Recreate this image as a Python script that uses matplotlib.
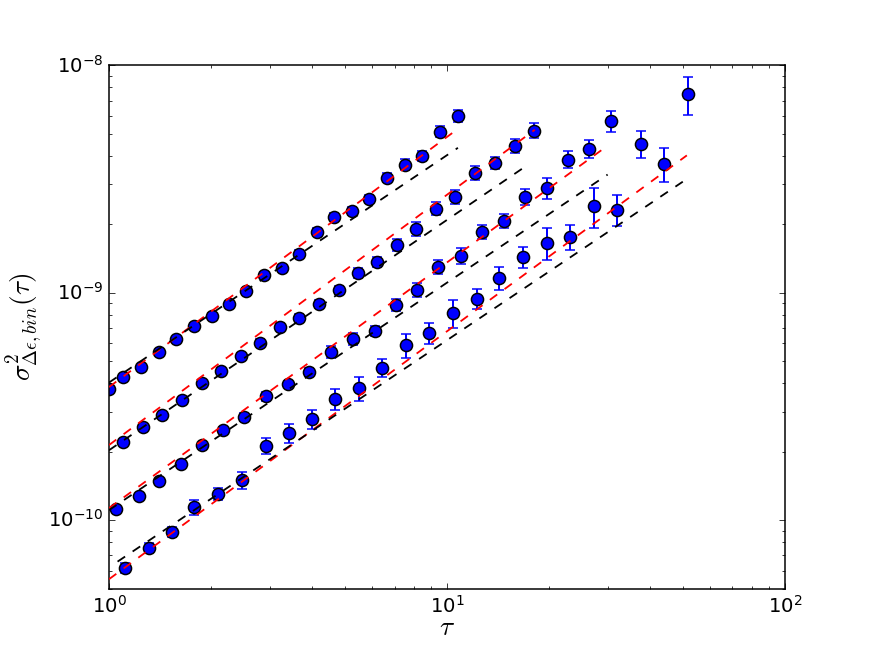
import numpy as np
import matplotlib
matplotlib.use("Agg")
import matplotlib.pyplot as plt

plt.style.use("classic")

# ---- data: four binned series (tau, sigma^2, relative error) ----
tau1 = [1.000, 1.100, 1.243, 1.406, 1.578, 1.784, 2.018, 2.265, 2.543, 2.875, 3.250,
        3.648, 4.125, 4.631, 5.236, 5.878, 6.645, 7.510, 8.433, 9.535, 10.78]
var1 = [3.78e-10, 4.27e-10, 4.72e-10, 5.50e-10, 6.27e-10, 7.15e-10, 7.92e-10, 8.94e-10,
        1.020e-9, 1.200e-9, 1.288e-9, 1.485e-9, 1.857e-9, 2.162e-9, 2.297e-9, 2.595e-9,
        3.210e-9, 3.664e-9, 4.012e-9, 5.120e-9, 6.02e-9]
rel1 = [0.02, 0.02, 0.02, 0.02, 0.02, 0.025, 0.025, 0.025, 0.03, 0.03, 0.03,
        0.035, 0.035, 0.035, 0.04, 0.04, 0.045, 0.055, 0.05, 0.057, 0.06]

tau2 = [1.100, 1.260, 1.435, 1.644, 1.884, 2.145, 2.458, 2.797, 3.205, 3.648, 4.181,
        4.792, 5.454, 6.208, 7.113, 8.095, 9.279, 10.56, 12.10, 13.87, 15.90, 18.09]
var2 = [2.206e-10, 2.569e-10, 2.901e-10, 3.378e-10, 4.013e-10, 4.533e-10, 5.278e-10,
        6.020e-10, 7.08e-10, 7.76e-10, 8.94e-10, 1.031e-9, 1.224e-9, 1.370e-9, 1.627e-9,
        1.914e-9, 2.344e-9, 2.648e-9, 3.378e-9, 3.738e-9, 4.442e-9, 5.17e-9]
rel2 = [0.02, 0.02, 0.025, 0.025, 0.03, 0.03, 0.03, 0.035, 0.035, 0.035, 0.04,
        0.04, 0.05, 0.05, 0.06, 0.068, 0.065, 0.068, 0.07, 0.06, 0.07, 0.075]

tau3 = [1.049, 1.227, 1.406, 1.633, 1.884, 2.175, 2.508, 2.914, 3.385, 3.906, 4.537,
        5.272, 6.124, 7.066, 8.152, 9.405, 11.00, 12.69, 14.75, 17.02, 19.77, 22.80,
        26.31, 30.56]
var3 = [1.118e-10, 1.275e-10, 1.485e-10, 1.765e-10, 2.140e-10, 2.492e-10, 2.842e-10,
        3.517e-10, 3.973e-10, 4.487e-10, 5.497e-10, 6.27e-10, 6.80e-10, 8.85e-10,
        1.031e-9, 1.302e-9, 1.455e-9, 1.857e-9, 2.076e-9, 2.648e-9, 2.902e-9, 3.855e-9,
        4.309e-9, 5.72e-9]
rel3 = [0.02, 0.02, 0.02, 0.025, 0.025, 0.03, 0.04, 0.045, 0.035, 0.04, 0.06,
        0.06, 0.055, 0.06, 0.075, 0.07, 0.08, 0.07, 0.075, 0.085, 0.105, 0.085,
        0.095, 0.105]

tau4 = [1.115, 1.313, 1.536, 1.784, 2.101, 2.475, 2.914, 3.409, 3.987, 4.664, 5.490,
        6.423, 7.562, 8.846, 10.42, 12.27, 14.25, 16.79, 19.77, 23.12, 27.22, 31.84,
        37.50, 43.85, 51.65]
var4 = [6.145e-11, 7.52e-11, 8.86e-11, 1.141e-10, 1.302e-10, 1.500e-10, 2.118e-10,
        2.416e-10, 2.785e-10, 3.412e-10, 3.815e-10, 4.672e-10, 5.90e-10, 6.66e-10,
        8.16e-10, 9.41e-10, 1.164e-9, 1.441e-9, 1.661e-9, 1.765e-9, 2.416e-9, 2.320e-9,
        4.53e-9, 3.70e-9, 7.45e-9]
rel4 = [0.05, 0.05, 0.05, 0.08, 0.06, 0.09, 0.08, 0.10, 0.10, 0.11, 0.12,
        0.09, 0.12, 0.11, 0.14, 0.10, 0.12, 0.105, 0.16, 0.13, 0.20, 0.155,
        0.14, 0.17, 0.19]

# ---- fitted lines (endpoints on log-log axes) ----
red_x0 = [1.0, 1.0, 1.0, 1.0]
red_y0 = [3.85e-10, 2.14e-10, 1.13e-10, 5.5e-11]
red_x1 = [10.78, 18.2, 29.3, 51.3]
red_y1 = [5.26e-9, 5.21e-9, 4.34e-9, 4.02e-9]

blk_x0 = [1.0, 1.0, 1.0, 1.06]
blk_y0 = [4.03e-10, 2.03e-10, 1.107e-10, 6.57e-11]
blk_x1 = [10.78, 17.2, 29.9, 49.9]
blk_y1 = [4.34e-9, 3.62e-9, 3.31e-9, 3.08e-9]

fig = plt.figure(figsize=(8, 6), dpi=109, facecolor="white")
ax = fig.add_axes([0.125, 0.1, 0.775, 0.8])

for t, v, r in [(tau1, var1, rel1), (tau2, var2, rel2), (tau3, var3, rel3), (tau4, var4, rel4)]:
    t = np.array(t); v = np.array(v); r = np.array(r)
    ax.errorbar(t, v, yerr=v * r, fmt="o", color="blue", ecolor="blue",
                markerfacecolor="blue", markeredgecolor="black", markeredgewidth=1.0,
                markersize=8, elinewidth=1.3, capsize=3.5, capthick=1.0, zorder=2)

for i in range(4):
    ax.plot([red_x0[i], red_x1[i]], [red_y0[i], red_y1[i]], "--", color="red",
            lw=1.2, zorder=3)
    ax.plot([blk_x0[i], blk_x1[i]], [blk_y0[i], blk_y1[i]], "--", color="black",
            lw=1.2, zorder=3)

ax.set_xscale("log")
ax.set_yscale("log")
ax.set_xlim(1, 100)
ax.set_ylim(5e-11, 1e-8)
ax.set_xlabel(r"$\tau$", fontsize=18)
ax.set_ylabel(r"$\sigma^2_{\Delta\epsilon,bin}(\tau)$", fontsize=18)
ax.xaxis.set_label_coords(0.5, -0.05)
ax.yaxis.set_label_coords(-0.095, 0.5)
ax.tick_params(labelsize=13)

fig.savefig("out.png", dpi=109, facecolor="white")
